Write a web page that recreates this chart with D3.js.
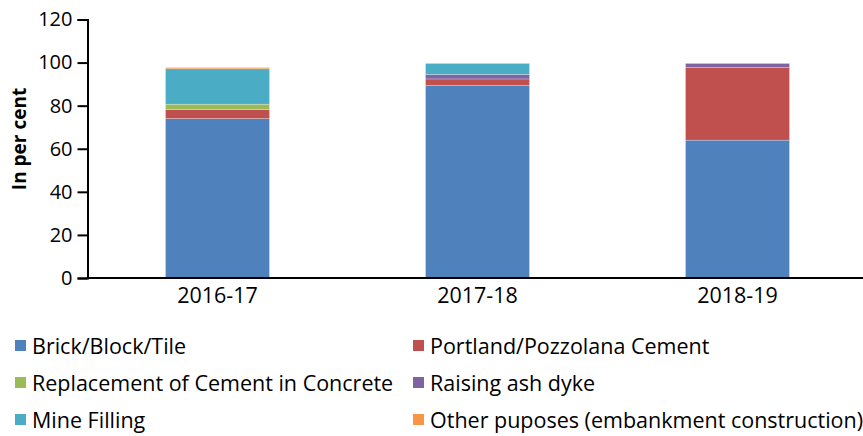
<!DOCTYPE html>
<html>
<head>
<meta charset="utf-8">
<script src="https://cdn.jsdelivr.net/npm/d3@7"></script>
<style>
  body { margin: 0; background: #fff; }
  svg { display: block; font-family: "Open Sans", "Noto Sans", sans-serif; }
</style>
</head>
<body>
<div id="chart"></div>
<script>
// Chart data
const years = ["2016-17", "2017-18", "2018-19"];
const uses = [
    "Brick/Block/Tile",
    "Portland/Pozzolana Cement",
    "Replacement of Cement in Concrete",
    "Raising ash dyke",
    "Mine Filling",
    "Other puposes (embankment construction)"
];
const brick = [74.0, 89.5, 64.0];
const portland = [4.2, 2.9, 33.7];
const replacement = [2.5, 0, 0];
const ashDyke = [0, 2.1, 1.9];
const mineFilling = [16.4, 5.1, 0];
const otherPurposes = [0.6, 0.2, 0];
const yTicks = [0, 20, 40, 60, 80, 100, 120];

const colors = ["#4f81bd", "#c0504d", "#9bbb59", "#8064a2", "#4bacc6", "#f79646"];

const seriesValues = [brick, portland, replacement, ashDyke, mineFilling, otherPurposes];
const table = years.map((yr, i) => {
    const row = { year: yr };
    uses.forEach((u, j) => { row[u] = seriesValues[j][i]; });
    return row;
});

const W = 863, H = 436;
const svg = d3.select("#chart").append("svg")
    .attr("width", W)
    .attr("height", H);

const x = d3.scaleBand()
    .domain(years)
    .range([87.5, 867.5])
    .paddingInner(0.6)
    .paddingOuter(0.3);

const y = d3.scaleLinear()
    .domain([0, 120])
    .range([278, 19.5]);

const stacked = d3.stack().keys(uses)(table);

// Bars
svg.append("g")
    .selectAll("g")
    .data(stacked)
    .join("g")
    .attr("fill", (d, i) => colors[i])
    .selectAll("rect")
    .data(d => d)
    .join("rect")
    .attr("x", d => x(d.data.year))
    .attr("width", x.bandwidth())
    .attr("y", d => y(d[1]))
    .attr("height", d => y(d[0]) - y(d[1]))
    .attr("stroke", "#fff")
    .attr("stroke-width", 0.5)
    .attr("stroke-opacity", 0.5);

// Y axis
const yAxis = svg.append("g")
    .attr("transform", "translate(87.5,0)")
    .call(d3.axisLeft(y).tickValues(yTicks).tickSize(10).tickPadding(5));
yAxis.select(".domain").attr("stroke", "#000").attr("stroke-width", 2);
yAxis.selectAll(".tick line").attr("stroke", "#000").attr("stroke-width", 2);
yAxis.selectAll("text")
    .attr("font-size", 20)
    .attr("fill", "#000")
    .attr("font-family", "Open Sans, sans-serif");

// X axis
const xAxis = svg.append("g")
    .attr("transform", "translate(0,278)")
    .call(d3.axisBottom(x).tickSize(0).tickPadding(10));
xAxis.select(".domain").attr("d", `M86.5,0H${W}`).attr("stroke", "#000").attr("stroke-width", 2);
xAxis.selectAll("text")
    .attr("font-size", 21.5)
    .attr("fill", "#000")
    .attr("font-family", "Open Sans, sans-serif");

// Y label
svg.append("text")
    .attr("transform", "translate(26,139) rotate(-90)")
    .attr("text-anchor", "middle")
    .attr("font-size", 19)
    .attr("font-weight", "bold")
    .attr("fill", "#000")
    .text("In per cent");

// Legend
const legendX = [15, 413];
const legendY = [346, 383, 420];
const legend = svg.append("g")
    .selectAll("g")
    .data(uses)
    .join("g")
    .attr("transform", (d, i) => `translate(${legendX[i % 2]},${legendY[Math.floor(i / 2)]})`);
legend.append("rect")
    .attr("x", 0)
    .attr("y", -6)
    .attr("width", 11)
    .attr("height", 11)
    .attr("fill", (d, i) => colors[i]);
legend.append("text")
    .attr("x", 17)
    .attr("y", 0)
    .attr("dy", "0.35em")
    .attr("font-size", 21.5)
    .attr("fill", "#000")
    .text(d => d);
</script>
</body>
</html>
